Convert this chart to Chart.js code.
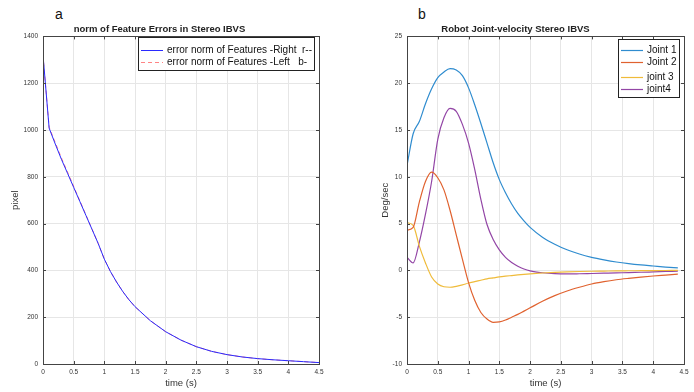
<!DOCTYPE html>
<html>
<head>
<meta charset="utf-8">
<script src="https://cdn.jsdelivr.net/npm/chart.js@4.4.0/dist/chart.umd.min.js"></script>
<style>
  body { margin: 0; background: #fff; width: 694px; height: 392px; position: relative; overflow: hidden; font-family: Arial, "Liberation Sans", sans-serif; }
  .panel { position: absolute; top: 0; width: 347px; height: 392px; }
  .tag { position: absolute; top: 6px; font-size: 14px; line-height: 16px; color: #111; }
</style>
</head>
<body>
<div class="tag" style="left:55px">a</div>
<div class="tag" style="left:418px">b</div>
<div class="panel" style="left:0"><canvas id="errChart" width="347" height="392"></canvas></div>
<div class="panel" style="left:347px"><canvas id="jointChart" width="347" height="392"></canvas></div>
<script>
// panel a: feature error norm
const timeA = [0, 0.1, 0.2, 0.3, 0.4, 0.5, 0.6, 0.7, 0.8, 0.9, 1.0, 1.1, 1.2, 1.3, 1.4, 1.5,
  1.75, 2.0, 2.25, 2.5, 2.75, 3.0, 3.25, 3.5, 3.75, 4.0, 4.25, 4.5];
const errRight = [1320, 1008, 940, 875, 815, 755, 695, 635, 575, 515, 448, 395, 350, 310, 275, 245,
  185, 138, 102, 74, 54, 40, 30, 23, 18, 14, 10, 6];
const errLeft = [1318, 1012, 946, 881, 820, 759, 698, 637, 576, 515, 448, 395, 350, 310, 275, 245,
  185, 138, 102, 74, 54, 40, 30, 23, 18, 14, 10, 6];
const labelsA = ['error norm of Features -Right  r--', 'error norm of Features -Left   b-'];

// panel b: joint velocities
const timeB = [0, 0.1, 0.2, 0.3, 0.4, 0.5, 0.6, 0.7, 0.8, 0.9, 1.0, 1.1, 1.2, 1.3, 1.4, 1.5,
  1.6, 1.7, 1.8, 1.9, 2.0, 2.2, 2.4, 2.6, 2.8, 3.0, 3.2, 3.4, 3.6, 3.8, 4.0, 4.2, 4.4];
const joint1 = [11.2, 14.6, 15.9, 17.8, 19.4, 20.6, 21.2, 21.55, 21.4, 20.8, 19.5, 17.7, 15.7, 13.6, 11.5, 9.7,
  8.3, 7.1, 6.1, 5.3, 4.6, 3.55, 2.8, 2.2, 1.75, 1.4, 1.13, 0.9, 0.72, 0.58, 0.47, 0.36, 0.26];
const joint2 = [4.3, 4.6, 7.3, 9.5, 10.5, 9.9, 8.6, 6.4, 3.8, 1.2, -1.3, -3.2, -4.5, -5.2, -5.55, -5.5,
  -5.3, -5.0, -4.7, -4.35, -4.0, -3.3, -2.7, -2.2, -1.8, -1.45, -1.2, -1.0, -0.85, -0.72, -0.6, -0.5, -0.4];
const joint3 = [5.1, 4.8, 2.6, 0.8, -0.7, -1.45, -1.75, -1.8, -1.7, -1.55, -1.35, -1.2, -1.05, -0.9, -0.8, -0.7,
  -0.62, -0.55, -0.48, -0.42, -0.37, -0.28, -0.21, -0.16, -0.12, -0.09, -0.07, -0.05, -0.04, -0.03, -0.02, -0.01, 0.0];
const joint4 = [1.4, 0.8, 3.0, 6.0, 9.5, 14.0, 16.3, 17.3, 17.0, 15.6, 13.6, 10.8, 7.6, 4.9, 3.3, 2.2,
  1.4, 0.85, 0.45, 0.15, -0.05, -0.25, -0.35, -0.38, -0.36, -0.33, -0.3, -0.27, -0.23, -0.2, -0.16, -0.12, -0.08];
const labelsB = ['Joint 1', 'Joint 2', 'joint 3', 'joint4'];

const FONT = 'Arial, "Liberation Sans", sans-serif';
const pts = (xs, ys) => xs.map((x, i) => ({ x: x, y: ys[i] }));

// matlab-ish box, inward ticks and boxed legend
const matlabBox = {
  id: 'matlabBox',
  afterDatasetsDraw(chart, args, opts) {
    const { ctx, chartArea: a, scales } = chart;
    ctx.save();
    ctx.strokeStyle = '#444';
    ctx.lineWidth = 1;
    ctx.beginPath();
    scales.x.ticks.forEach(t => {
      const px = Math.round(scales.x.getPixelForValue(t.value)) + 0.5;
      ctx.moveTo(px, a.bottom); ctx.lineTo(px, a.bottom - 3);
      ctx.moveTo(px, a.top); ctx.lineTo(px, a.top + 3);
    });
    scales.y.ticks.forEach(t => {
      const py = Math.round(scales.y.getPixelForValue(t.value)) + 0.5;
      ctx.moveTo(a.left, py); ctx.lineTo(a.left + 3, py);
      ctx.moveTo(a.right, py); ctx.lineTo(a.right - 3, py);
    });
    ctx.stroke();
    ctx.strokeRect(Math.round(a.left) + 0.5, Math.round(a.top) + 0.5,
      Math.round(a.right - a.left), Math.round(a.bottom - a.top));

    // legend
    const L = opts.box;
    ctx.fillStyle = '#fff';
    ctx.fillRect(L.x, L.y, L.w, L.h);
    ctx.strokeStyle = '#222';
    ctx.strokeRect(L.x + 0.5, L.y + 0.5, L.w, L.h);
    ctx.font = opts.fontSize + 'px ' + FONT;
    ctx.textBaseline = 'middle';
    chart.data.datasets.forEach((ds, i) => {
      const y = L.rows[i] + 0.5;
      ctx.strokeStyle = ds.borderColor;
      ctx.lineWidth = ds.borderWidth;
      ctx.setLineDash(ds.borderDash || []);
      ctx.beginPath();
      ctx.moveTo(L.x + 3, y); ctx.lineTo(L.x + 3 + L.line, y);
      ctx.stroke();
      ctx.setLineDash([]);
      ctx.fillStyle = '#111';
      ctx.fillText(ds.label, L.x + L.line + 7, y);
    });
    ctx.restore();
  }
};

function axes(xMax, yMin, yMax, yStep, yTitle, yWidth, yTitlePad) {
  return {
    x: {
      type: 'linear', min: 0, max: xMax,
      ticks: { stepSize: 0.5, color: '#333', padding: 4, font: { family: FONT, size: 6.5 },
        callback: v => String(v) },
      grid: { color: '#e6e6e6', drawTicks: false },
      border: { display: false },
      title: { display: true, text: 'time (s)', color: '#333', font: { family: FONT, size: 9.5 },
        padding: { top: 0, bottom: 3 } },
      afterFit: s => { s.height = 28; }
    },
    y: {
      min: yMin, max: yMax,
      ticks: { stepSize: yStep, color: '#333', padding: 5, font: { family: FONT, size: 6.5 },
        callback: v => String(v) },
      grid: { color: '#e6e6e6', drawTicks: false },
      border: { display: false },
      title: { display: true, text: yTitle, color: '#333', font: { family: FONT, size: 9.5 },
        padding: { top: yTitlePad, bottom: 0 } },
      afterFit: s => { s.width = yWidth; }
    }
  };
}

function titleOpts(text) {
  return {
    display: true, text: text, color: '#222',
    font: { family: FONT, size: 9.5, weight: 'bold', lineHeight: 1.2 },
    padding: { top: 24, bottom: 1 }
  };
}

new Chart(document.getElementById('errChart'), {
  type: 'line',
  data: {
    datasets: [{
      label: labelsA[0],
      data: pts(timeA, errRight),
      borderColor: '#2a2aff',
      borderWidth: 1,
      pointRadius: 0,
      tension: 0
    }, {
      label: labelsA[1],
      data: pts(timeA, errLeft),
      borderColor: 'rgba(255,80,80,0.7)',
      borderWidth: 1,
      borderDash: [4, 3],
      pointRadius: 0,
      tension: 0
    }]
  },
  options: {
    responsive: false,
    animation: false,
    devicePixelRatio: 1,
    layout: { padding: { left: 0, right: 28, top: 0, bottom: 0 } },
    scales: axes(4.5, 0, 1400, 200, 'pixel', 43, 9.6),
    plugins: {
      legend: { display: false },
      tooltip: { enabled: false },
      title: titleOpts('norm of Feature Errors in Stereo IBVS'),
      matlabBox: { fontSize: 10, box: { x: 138, y: 37, w: 176, h: 33, line: 22, rows: [50, 62] } }
    }
  },
  plugins: [matlabBox]
});

const jointColors = ['#2f8ccf', '#e0622f', '#efbb3a', '#9346a6'];
const jointData = [joint1, joint2, joint3, joint4];

new Chart(document.getElementById('jointChart'), {
  type: 'line',
  data: {
    datasets: jointData.map((vals, i) => ({
      label: labelsB[i],
      data: pts(timeB, vals),
      borderColor: jointColors[i],
      borderWidth: 1.2,
      pointRadius: 0,
      cubicInterpolationMode: 'monotone'
    }))
  },
  options: {
    responsive: false,
    animation: false,
    devicePixelRatio: 1,
    layout: { padding: { left: 0, right: 10, top: 0, bottom: 0 } },
    scales: axes(4.5, -10, 25, 5, 'Deg/sec', 60, 32.6),
    plugins: {
      legend: { display: false },
      tooltip: { enabled: false },
      title: titleOpts('Robot Joint-velocity Stereo IBVS'),
      matlabBox: { fontSize: 10, box: { x: 271, y: 39, w: 61, h: 58, line: 22, rows: [50, 62, 77, 89] } }
    }
  },
  plugins: [matlabBox]
});
</script>
</body>
</html>
